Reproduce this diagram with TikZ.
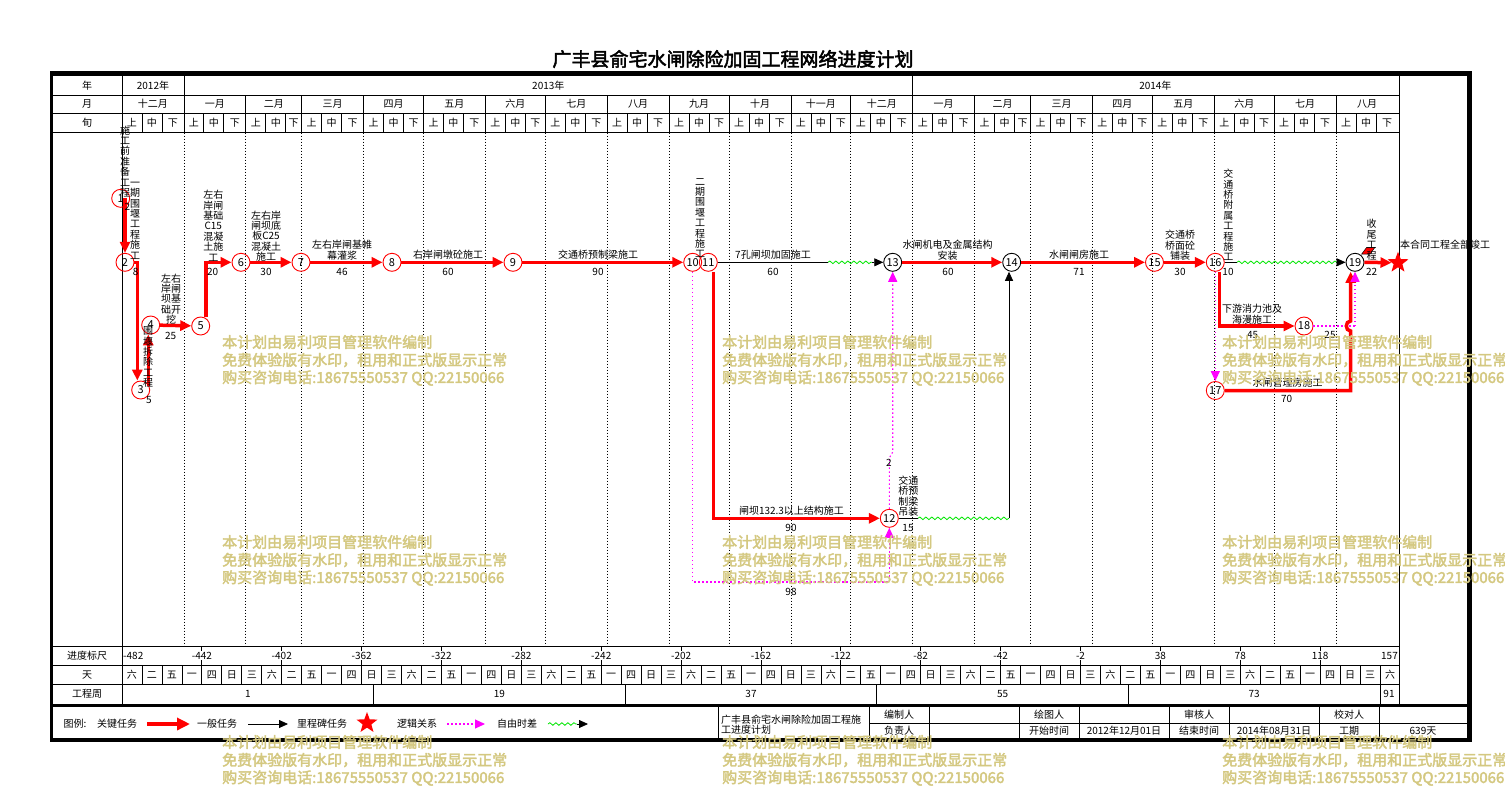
\documentclass[tikz,border=0pt]{standalone}
\usepackage{fontspec}
\setmainfont{Noto Sans CJK SC}
\newfontfamily\boldcjk{Noto Sans CJK SC}[FakeBold=2.5]
\usetikzlibrary{arrows.meta,shapes.geometric,decorations.pathmorphing,calc}
\definecolor{cRed}{RGB}{255,0,0}
\definecolor{cMag}{RGB}{255,0,255}
\definecolor{cGrn}{RGB}{0,230,0}
\definecolor{cWm}{RGB}{212,200,128}
\newcommand\dayx[1]{(122+1.99687*(#1))}
\newcommand\wkname[1]{\ifcase#1 日\or 一\or 二\or 三\or 四\or 五\or 六\fi}
\begin{document}
\begin{tikzpicture}[x=1pt,y=-1pt,
  every node/.style={inner sep=0pt, align=center, font=\fontsize{10}{10.4}\selectfont},
  grid/.style={line width=0.8pt},
  dotgrid/.style={line width=0.8pt, dash pattern=on 1pt off 2pt},
  critline/.style={cRed, line width=3.5pt, -{Triangle[length=11pt,width=10pt]}},
  normline/.style={black, line width=0.8pt},
  normarrow/.style={black, line width=0.8pt, -{Triangle[length=9pt,width=8pt]}},
  logicline/.style={cMag, line width=1.1pt, dash pattern=on 1.5pt off 2.5pt},
  logicarrow/.style={logicline, -{Triangle[length=10pt,width=9pt]}},
  wave/.style={cGrn, line width=0.8pt, decorate, decoration={snake, amplitude=1.3pt, segment length=6pt}},
  evt/.style={circle, draw=cRed, line width=0.9pt, minimum size=18pt, font=\fontsize{11}{11}\selectfont},
  evtb/.style={circle, draw=black, line width=0.9pt, minimum size=18pt, font=\fontsize{11}{11}\selectfont},
  wm/.style={anchor=west, text=cWm, font=\boldcjk\fontsize{15}{15}\selectfont},
  ttl/.style={font=\boldcjk\fontsize{19}{19}\selectfont},
]
\useasboundingbox (0,0) rectangle (1505,785);
\fill[white] (0,0) rectangle (1505,785);

% ---------- title ----------
\node[ttl] (title) at (733,59) {广丰县俞宅水闸除险加固工程网络进度计划};

% ---------- header grid ----------
\draw[grid] (52,95) -- (1399,95);
\draw[grid] (52,113.3) -- (1399,113.3);
\draw[grid] (52,132.7) -- (1399,132.7);
\draw[grid] (52,646) -- (1399,646);
\draw[grid] (52,665) -- (1399,665);
\draw[grid] (52,684.3) -- (1399,684.3);
\draw[grid] (122,76) -- (122,704);
\draw[grid] (1399,76) -- (1399,704);
\draw[grid] ({\dayx{31}},76) -- ({\dayx{31}},95);
\draw[grid] ({\dayx{396}},76) -- ({\dayx{396}},95);

\node (hy) at (87,85.5) {年};
\node (hm) at (87,104.2) {月};
\node (hx) at (87,123) {旬};
\node (y12) at ({\dayx{15.5}},85.5) {2012年};
\node (y13) at ({\dayx{213.5}},85.5) {2013年};
\node (y14) at ({\dayx{517.5}},85.5) {2014年};

\foreach \s/\e/\m in {0/31/十二月,31/62/一月,62/90/二月,90/121/三月,121/151/四月,151/182/五月,182/212/六月,212/243/七月,243/274/八月,274/304/九月,304/335/十月,335/365/十一月,365/396/十二月,396/427/一月,427/455/二月,455/486/三月,486/516/四月,516/547/五月,547/577/六月,577/608/七月,608/639/八月}{
  \node at ({\dayx{(\s+\e)/2}},104.2) {\m};
  \node at ({\dayx{\s+5}},123) {上};
  \node at ({\dayx{\s+15}},123) {中};
  \node at ({\dayx{(\s+20+\e)/2}},123) {下};
  \draw[grid] ({\dayx{\s+10}},113.3) -- ({\dayx{\s+10}},132.7);
  \draw[grid] ({\dayx{\s+20}},113.3) -- ({\dayx{\s+20}},132.7);
}
\foreach \s in {31,62,90,121,151,182,212,243,274,304,335,365,396,427,455,486,516,547,577,608}{
  \draw[grid] ({\dayx{\s}},95) -- ({\dayx{\s}},132.7);
  \draw[dotgrid] ({\dayx{\s}},132.7) -- ({\dayx{\s}},646);
}

% ---------- bottom scales ----------
\node (lsc) at (87,655.7) {进度标尺};
\node (lday) at (87,675) {天};
\node (lwk) at (87,693.5) {工程周};
\foreach \d in {40,80,...,600}{
  \pgfmathtruncatemacro\v{\d-482}
  \draw[grid] ({\dayx{\d}},646) -- ({\dayx{\d}},651);
  \draw[grid] ({\dayx{\d}},660) -- ({\dayx{\d}},665);
  \node at ({\dayx{\d}},655.7) {\v};
}
\node[anchor=west] (sc0) at (123,655.7) {-482};
\node[anchor=east] (sc1) at (1398,655.7) {157};
\foreach \k in {0,...,63}{
  \pgfmathtruncatemacro\w{mod(6+10*\k,7)}
  \node at ({\dayx{10*\k+5}},675) {\wkname{\w}};
}
\foreach \k in {1,...,63}{
  \draw[grid] ({\dayx{10*\k}},665) -- ({\dayx{10*\k}},684.3);
}
\foreach \d in {126,252,378,504,630}{
  \draw[grid] ({\dayx{\d}},684.3) -- ({\dayx{\d}},705);
}
\foreach \d/\t in {63/1,189/19,315/37,441/55,567/73,634.5/91}{
  \node at ({\dayx{\d}},693.5) {\t};
}

% ---------- frame ----------
\draw[line width=3pt] (52,705.5) -- (1468,705.5);
\draw[line width=5pt] (50,73.5) -- (1472,73.5);
\draw[line width=3pt] (51.5,71) -- (51.5,742);
\draw[line width=5pt] (1469.5,71) -- (1469.5,742);
\draw[line width=4pt] (50,740) -- (1472,740);

% ---------- legend ----------
\node (lg0) at (75,724) {图例:};
\node (lg1) at (117,724) {关键任务};
\coordinate (lga1) at (147,724); \coordinate (lgb1) at (190,724);
\draw[cRed, line width=4.5pt, -{Triangle[length=13pt,width=12pt]}] (lga1) -- (lgb1);
\node (lg2) at (217,724) {一般任务};
\coordinate (lga2) at (248,724); \coordinate (lgb2) at (288,724);
\draw[normarrow] (lga2) -- (lgb2);
\node (lg3) at (322,724) {里程碑任务};
\node[star, star points=5, star point ratio=2.4, fill=cRed, minimum size=22pt] (lgstar) at (367,723) {};
\node (lg4) at (417,724) {逻辑关系};
\coordinate (lga4) at (447,724); \coordinate (lgb4) at (485,724);
\draw[logicarrow] (lga4) -- (lgb4);
\node (lg5) at (517,724) {自由时差};
\coordinate (lga5) at (548,724); \coordinate (lgb5) at (577,724); \coordinate (lgc5) at (588,724);
\draw[wave] (lga5) -- (lgb5);
\draw[normarrow] (lgb5) -- (lgc5);

% title block
\draw[grid] (718,706) -- (718,738);
\draw[grid] (869,723) -- (1467,723);
\foreach \x in {869,929,1019,1079,1169,1229,1319,1379}{
  \draw[grid] (\x,706) -- (\x,738);
}
\node[anchor=west, align=left] (tb) at (721,724.5) {广丰县俞宅水闸除险加固工程施\\工进度计划};
\node (tb1) at (899,714.5) {编制人};
\node (tb2) at (1049,714.5) {绘图人};
\node (tb3) at (1199,714.5) {审核人};
\node (tb4) at (1349,714.5) {校对人};
\node (tb5) at (899,731) {负责人};
\node (tb6) at (1049,731) {开始时间};
\node (tb7) at (1124,731) {2012年12月01日};
\node (tb8) at (1199,731) {结束时间};
\node (tb9) at (1274,731) {2014年08月31日};
\node (tb10) at (1349,731) {工期};
\node (tb11) at (1423,731) {639天};

% ---------- events ----------
\node[evt] (n1) at (120.7,198.3) {1};
\node[evt] (n2) at (125,262.3) {2};
\node[evt] (n3) at (140.7,390) {3};
\node[evt] (n4) at (150.7,325) {4};
\node[evt] (n5) at (200.7,326) {5};
\node[evt] (n6) at (241,262.3) {6};
\node[evt] (n7) at (301,262.3) {7};
\node[evt] (n8) at (392,262.3) {8};
\node[evt] (n9) at (513,262.3) {9};
\node[evt] (n10) at (692.7,262.3) {10};
\node[evt] (n11) at (708.3,262.3) {11};
\node[evt] (n12) at (889.3,518.3) {12};
\node[evtb] (n13) at (892.7,262.3) {13};
\node[evtb] (n14) at (1011.7,262.3) {14};
\node[evt] (n15) at (1154.5,262.3) {15};
\node[evt] (n16) at (1215.3,262.3) {16};
\node[evt] (n17) at (1215.3,390.5) {17};
\node[evt] (n18) at (1304,326) {18};
\node[evtb] (n19) at (1355,262.3) {19};
\node[star, star points=5, star point ratio=2.4, fill=cRed, minimum size=22pt] (fin) at (1398,262.7) {};

% ---------- connectors ----------
\coordinate (c23) at (137.3,262.3);
\coordinate (c34) at (148.3,386);
\coordinate (c56) at (206,262.3);
\coordinate (c1112) at (713.3,518.3);
\coordinate (c1113a) at (828,262.3);
\coordinate (c1113b) at (872,262.3);
\coordinate (c1214a) at (918,518.3);
\coordinate (c1214b) at (1009,518.3);
\coordinate (c1619a) at (1237,262.3);
\coordinate (c1619b) at (1337,262.3);
\coordinate (c1618) at (1219.5,326);
\coordinate (c1719) at (1350.7,390.5);
\coordinate (jmpa) at (1350.7,331);
\coordinate (jmpb) at (1350.7,321);
\coordinate (c1819) at (1355,326);
\coordinate (c1012a) at (692.7,582);
\coordinate (c1012b) at (889.3,582);
\coordinate (c1213a) at (889.3,458);
\coordinate (c1213b) at (892.7,452);

\draw[critline] (n2 |- n1) -- (n2.north);
\draw[critline] (n2.east) -- (c23) -- (c23 |- n3.north);
\draw[critline] (c34) -- (c34 |- n4.south);
\draw[critline] (n4) -- (n5);
\draw[critline] (c56 |- n5.north) -- (c56) -- (n6.west);
\draw[critline] (n6) -- (n7);
\draw[critline] (n7) -- (n8);
\draw[critline] (n8) -- (n9);
\draw[critline] (n9) -- (n10);
\draw[critline] (c1112 |- n11.south) -- (c1112) -- (n12.west);
\draw[normline] (n11.east) -- (c1113a);
\draw[wave] (c1113a) -- (c1113b);
\draw[normarrow] (c1113b) -- (n13.west);
\draw[critline] (n13) -- (n14);
\draw[normline] (n12.east) -- (c1214a);
\draw[wave] (c1214a) -- (c1214b);
\draw[normarrow] (c1214b) -- (c1214b |- n14.south);
\draw[critline] (n14) -- (n15);
\draw[critline] (n15) -- (n16);
\draw[normline] (n16.east) -- (c1619a);
\draw[wave] (c1619a) -- (c1619b);
\draw[normarrow] (c1619b) -- (n19.west);
\draw[critline] (c1618 |- n16.south) -- (c1618) -- (n18.west);
\draw[logicarrow] (n16.south) -- (n17.north);
\draw[logicline] (n18.east) -- (c1819);
\draw[critline] (n17.east) -- (c1719) -- (jmpa) to[out=180,in=180,looseness=1.5] (jmpb) -- (c1719 |- n19.south);
\draw[logicarrow] (c1819) -- (n19.south);
\draw[critline] (n19.east) -- (fin.west);
\draw[logicarrow] (n10.south) -- (c1012a) -- (c1012b) -- (n12.south);
\draw[logicarrow] (n12.north) -- (c1213a) -- (c1213b) -- (n13.south);

\filldraw[fill=cRed, draw=black, line width=0.5pt] (1366.7,247.3) -- (1375,247.3) -- (1370,254) -- (1361.7,254) -- cycle;

% ---------- task labels ----------
\node (t12) at (125,161.5) {施\\工\\前\\准\\备\\工\\程};
\node (d12) at (127.3,207) {2};
\node (t23) at (135,220.5) {一\\期\\围\\堰\\工\\程\\施\\工};
\node (d23) at (135.7,271.7) {8};
\node (t34) at (148,357) {围\\堰\\拆\\除\\工\\程};
\node (d34) at (149,400) {5};
\node (t45) at (171,299) {左右\\岸闸\\坝基\\础开\\挖};
\node (d45) at (170.7,336) {25};
\node (t56) at (213.3,225.7) {左右\\岸闸\\基础\\C15\\混凝\\土施\\工};
\node (d56) at (212.7,271.7) {20};
\node (t67) at (266,236) {左右岸\\闸坝底\\板C25\\混凝土\\施工};
\node (d67) at (266,271.7) {30};
\node (t78) at (342,250) {左右岸闸基帷\\幕灌浆};
\node (d78) at (342,271.7) {46};
\node (t89) at (448,255) {右岸闸墩砼施工};
\node (d89) at (448,271.7) {60};
\node (t910) at (598,255) {交通桥预制梁施工};
\node (d910) at (598,271.7) {90};
\node (t1011) at (700,218) {二\\期\\围\\堰\\工\\程\\施\\工};
\node (t1113) at (773,255) {7孔闸坝加固施工};
\node (d1113) at (773,271.7) {60};
\node (t1112) at (791.5,511) {闸坝132.3以上结构施工};
\node (d1112) at (791,527.7) {90};
\node (t1214) at (908.3,496) {交通\\桥预\\制梁\\吊装};
\node (d1214) at (908,528) {15};
\node (d1213) at (889,463) {2};
\node (d1012) at (791,592) {98};
\node (t1314) at (947.5,250) {水闸机电及金属结构\\安装};
\node (d1314) at (948,271.7) {60};
\node (t1415) at (1079,255) {水闸闸房施工};
\node (d1415) at (1079,271.7) {71};
\node (t1516) at (1180,245.5) {交通桥\\桥面砼\\铺装};
\node (d1516) at (1180,271.7) {30};
\node (t1619) at (1228.3,215) {交\\通\\桥\\附\\属\\工\\程\\施\\工};
\node (d1619) at (1228,271.7) {10};
\node (t1618) at (1252,314) {下游消力池及\\海漫施工};
\node (d1618) at (1252.7,335) {45};
\node (d1819) at (1330,335) {25};
\node (t1719) at (1287.5,383) {水闸管理房施工};
\node (d1719) at (1286.7,399) {70};
\node (t19f) at (1371.7,239.7) {收\\尾\\工\\程};
\node (d19f) at (1371.7,271.7) {22};
\node[anchor=west] (tfin) at (1400,245) {本合同工程全部竣工};

% ---------- watermark ----------
\foreach \x in {222,722,1222}{
  \foreach \y in {342,542,742}{
    \node[wm] at (\x,\y) {本计划由易利项目管理软件编制};
    \node[wm] at (\x,\y+18) {免费体验版有水印，租用和正式版显示正常};
    \node[wm] at (\x,\y+36) {购买咨询电话:18675550537 QQ:22150066};
  }
}
\end{tikzpicture}
\end{document}
